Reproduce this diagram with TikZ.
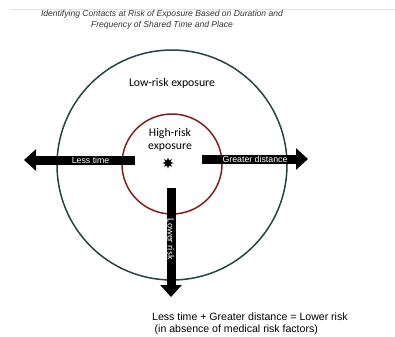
\documentclass[tikz,border=0pt]{standalone}
\usepackage{fontspec}
\setmainfont{Carlito}
\newfontfamily\arialfont{Liberation Sans}
\usetikzlibrary{positioning,arrows.meta,shapes.geometric}

\definecolor{ringteal}{RGB}{38,68,68}
\definecolor{ringred}{RGB}{128,32,30}
\definecolor{titlegray}{RGB}{50,50,50}

\begin{document}
\begin{tikzpicture}[x=1bp, y=-1bp,
    ring/.style={circle, draw, line width=1.5bp, inner sep=0},
    bigarrow/.style={line width=9bp, -{Triangle[width=21bp, length=12bp]}},
    arrowlbl/.style={font=\arialfont\fontsize{8.8}{9}\selectfont, text=white, inner sep=0},
    ringlbl/.style={font=\fontsize{11.8}{13}\selectfont, align=center, inner sep=0}
  ]
\useasboundingbox (0,0) rectangle (395,337);

% Title strip
\draw[black!12, line width=0.8bp] (10,9) -- (395,9);
\node[font=\arialfont\itshape\fontsize{8.6}{11}\selectfont, text=titlegray, align=center, inner sep=0] (title) at (162,20)
  {Identifying Contacts at Risk of Exposure Based on Duration and\\Frequency of Shared Time and Place};

% Rings
\node[ring, draw=ringteal, minimum size=230bp] (outer) at (172,165) {};
\node[ring, draw=ringred, minimum size=100bp] (inner) at (172,164) {};

% Ring labels
\node[ringlbl, below=29bp of outer.north] (lowrisk) {Low-risk exposure};
\node[star, star points=8, star point ratio=2, fill=black, minimum size=11bp, inner sep=0] (hub) at (168,163) {};
\node[ringlbl, above=5bp of hub, xshift=2bp] (highrisk) {High-risk\\exposure};

% Arrow ends
\coordinate (lt-tail) at (135,160);
\coordinate (lt-head) at (24,160);
\coordinate (gd-tail) at (202,159);
\coordinate (gd-head) at (308,159);
\coordinate (lr-tail) at (171,188);
\coordinate (lr-head) at (171,297);

% Arrows
\draw[bigarrow] (lt-tail) -- node[arrowlbl, pos=0.4] (lesstime) {Less time} (lt-head);
\draw[bigarrow] (gd-tail) -- node[arrowlbl, pos=0.5] (greater) {Greater distance} (gd-head);
\draw[bigarrow] (lr-tail) -- node[arrowlbl, pos=0.47, rotate=-90, font=\fontsize{9.8}{10}\selectfont] (lower) {Lower risk} (lr-head);

% Summary
\node[font=\arialfont\fontsize{10.6}{12}\selectfont, align=left, anchor=north west, inner sep=0] (summary) at (152,313)
  {Less time + Greater distance = Lower risk\\\hspace*{2.5bp}(in absence of medical risk factors)};

\end{tikzpicture}
\end{document}
